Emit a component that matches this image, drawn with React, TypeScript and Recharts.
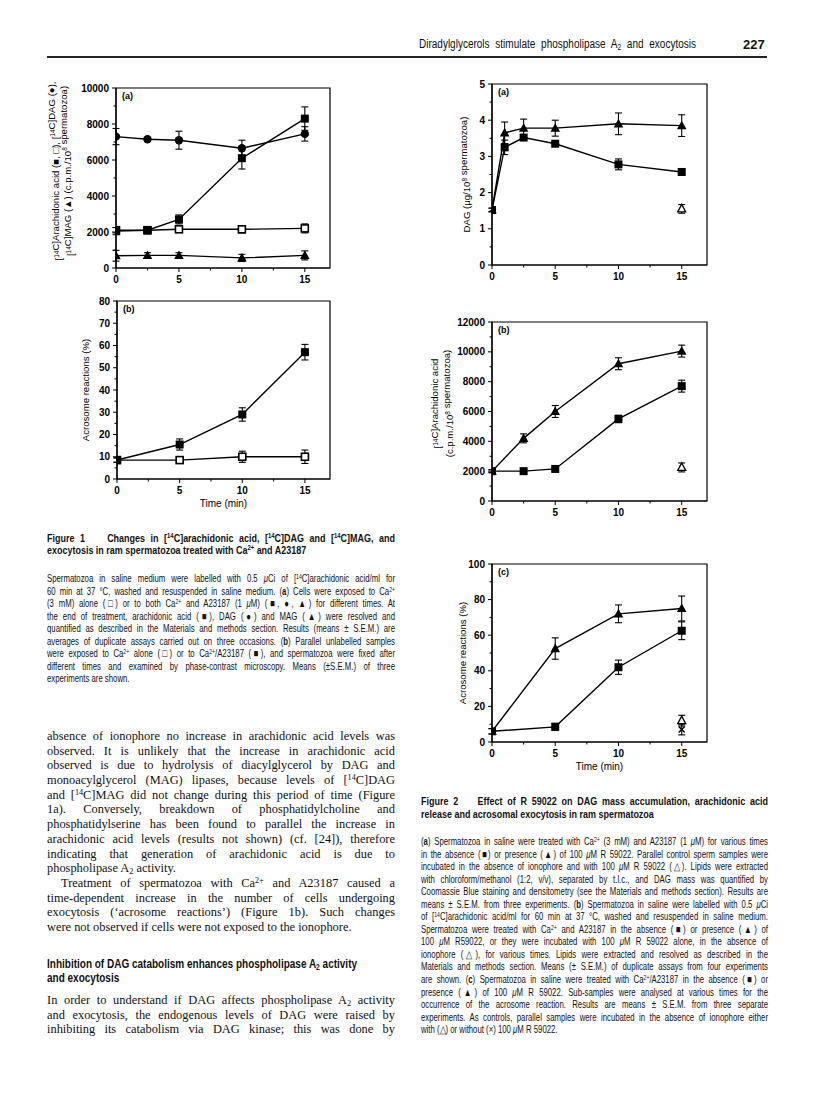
import React from 'react';
import { LineChart, Line, XAxis, YAxis, ErrorBar, ReferenceArea } from 'recharts';

const SANS = "'Liberation Sans', Arial, Helvetica, sans-serif";
const SERIF = "'Liberation Serif', 'Times New Roman', serif";

// ---- shared time axis ----
const timeTicks = [0, 2.5, 5, 7.5, 10, 12.5, 15];
const timeLabels = [0, 5, 10, 15];

// ---- Figure 1a: [14C] label (c.p.m./10^8 spermatozoa) ----
const f1aTimes = [0, 2.5, 5, 10, 15];
const f1aAA = [2050, 2100, 2700, 6100, 8300];
const f1aAAErr = [200, 200, 250, 600, 650];
const f1aAACtl = [2100, 2100, 2150, 2150, 2200];
const f1aAACtlErr = [150, 150, 150, 200, 250];
const f1aDAG = [7300, 7150, 7100, 6650, 7450];
const f1aDAGErr = [450, 100, 500, 450, 400];
const f1aMAG = [680, 700, 700, 560, 700];
const f1aMAGErr = [300, 150, 150, 200, 250];
const f1aYTicks = [0, 1000, 2000, 3000, 4000, 5000, 6000, 7000, 8000, 9000, 10000];
const f1aYLabels = [0, 2000, 4000, 6000, 8000, 10000];

// ---- Figure 1b: acrosome reactions (%) ----
const f1bTimes = [0, 5, 10, 15];
const f1bIono = [8.5, 15.5, 29, 57];
const f1bIonoErr = [1, 2.5, 3, 3.5];
const f1bCtl = [8.5, 8.5, 10, 10];
const f1bCtlErr = [1, 1.5, 2.5, 3];
const f1bYTicks = [0, 5, 10, 15, 20, 25, 30, 35, 40, 45, 50, 55, 60, 65, 70, 75, 80];
const f1bYLabels = [0, 10, 20, 30, 40, 50, 60, 70, 80];

// ---- Figure 2a: DAG mass (ug/10^8 spermatozoa) ----
const f2aTimes = [0, 1, 2.5, 5, 10, 15];
const f2aAbsent = [1.52, 3.25, 3.52, 3.35, 2.78, 2.57];
const f2aAbsentErr = [0.05, 0.2, 0.08, 0.05, 0.15, 0.08];
const f2aR59022 = [1.52, 3.65, 3.78, 3.78, 3.9, 3.85];
const f2aR59022Err = [0.05, 0.3, 0.25, 0.22, 0.3, 0.3];
const f2aCtlTimes = [15];
const f2aCtl = [1.55];
const f2aCtlErr = [0.12];
const f2aYTicks = [0, 0.5, 1, 1.5, 2, 2.5, 3, 3.5, 4, 4.5, 5];
const f2aYLabels = [0, 1, 2, 3, 4, 5];

// ---- Figure 2b: [14C]arachidonic acid ----
const f2bTimes = [0, 2.5, 5, 10, 15];
const f2bAbsent = [2000, 2000, 2150, 5500, 7700];
const f2bAbsentErr = [100, 150, 150, 250, 400];
const f2bR59022 = [2000, 4200, 6000, 9200, 10050];
const f2bR59022Err = [100, 300, 400, 400, 400];
const f2bCtlTimes = [15];
const f2bCtl = [2250];
const f2bCtlErr = [300];
const f2bYTicks = [0, 1000, 2000, 3000, 4000, 5000, 6000, 7000, 8000, 9000, 10000, 11000, 12000];
const f2bYLabels = [0, 2000, 4000, 6000, 8000, 10000, 12000];

// ---- Figure 2c: acrosome reactions (%) ----
const f2cTimes = [0, 5, 10, 15];
const f2cAbsent = [6, 8.5, 42, 62.5];
const f2cAbsentErr = [1.5, 2, 4, 5];
const f2cR59022 = [6, 52.5, 72, 75];
const f2cR59022Err = [1.5, 6, 5, 7];
const f2cCtlTimes = [15];
const f2cCtlR = [12];
const f2cCtlRErr = [3];
const f2cCtlNone = [7];
const f2cCtlNoneErr = [3];
const f2cYTicks = [0, 10, 20, 30, 40, 50, 60, 70, 80, 90, 100];
const f2cYLabels = [0, 20, 40, 60, 80, 100];

const pts = (xs: number[], ys: number[], es: number[]) =>
  xs.map((x, i) => ({ x, y: ys[i], e: es[i] }));

type Shape = 'sq' | 'osq' | 'circ' | 'tri' | 'otri' | 'x';

function Marker({ cx, cy, shape }: { cx?: number; cy?: number; shape: Shape }) {
  if (cx == null || cy == null) return null;
  switch (shape) {
    case 'sq':
      return <rect x={cx - 4} y={cy - 4} width={8} height={8} fill="#000" />;
    case 'osq':
      return <rect x={cx - 3.5} y={cy - 3.5} width={7} height={7} fill="#fff" stroke="#000" strokeWidth={1.6} />;
    case 'circ':
      return <circle cx={cx} cy={cy} r={4.2} fill="#000" />;
    case 'tri':
      return <polygon points={`${cx},${cy - 5} ${cx + 4.8},${cy + 3.6} ${cx - 4.8},${cy + 3.6}`} fill="#000" />;
    case 'otri':
      return (
        <polygon points={`${cx},${cy - 4.5} ${cx + 4},${cy + 3} ${cx - 4},${cy + 3}`} fill="#fff" stroke="#000" strokeWidth={1.3} />
      );
    case 'x':
      return (
        <g stroke="#000" strokeWidth={1.4}>
          <line x1={cx - 3} y1={cy - 3} x2={cx + 3} y2={cy + 3} />
          <line x1={cx - 3} y1={cy + 3} x2={cx + 3} y2={cy - 3} />
        </g>
      );
  }
  return null;
}

const dotOf = (shape: Shape) => (p: any) => <Marker key={`m-${p.index}`} cx={p.cx} cy={p.cy} shape={shape} />;

function series(key: string, data: { x: number; y: number; e: number }[], shape: Shape, joined = true) {
  return (
    <Line
      key={key}
      data={data}
      dataKey="y"
      type="linear"
      stroke={joined ? '#000' : 'none'}
      strokeWidth={1.4}
      dot={dotOf(shape)}
      activeDot={false}
      isAnimationActive={false}
    >
      <ErrorBar dataKey="e" direction="y" width={3.5} stroke="#000" strokeWidth={1.1} />
    </Line>
  );
}

function YTick(props: any) {
  const { x, y, payload, labels } = props;
  const major = labels.includes(payload.value);
  return (
    <g>
      <line x1={x - (major ? 4 : 2.5)} x2={x} y1={y} y2={y} stroke="#000" strokeWidth={1} />
      {major && (
        <text x={x - 7} y={y + 3.6} textAnchor="end" fontSize={10} fontWeight="bold" fontFamily={SANS} fill="#000">
          {payload.value}
        </text>
      )}
    </g>
  );
}

function XTick(props: any) {
  const { x, y, payload, labels } = props;
  const major = labels.includes(payload.value);
  return (
    <g>
      <line x1={x} x2={x} y1={y} y2={y + (major ? 4 : 2.5)} stroke="#000" strokeWidth={1} />
      {major && (
        <text x={x} y={y + 15} textAnchor="middle" fontSize={10} fontWeight="bold" fontFamily={SANS} fill="#000">
          {payload.value}
        </text>
      )}
    </g>
  );
}

function XTitle(props: any) {
  const { viewBox, text } = props;
  if (!viewBox) return null;
  return (
    <text x={viewBox.x + viewBox.width / 2} y={viewBox.y + 28} textAnchor="middle" fontSize={10} fontFamily={SANS} fill="#000">
      {text}
    </text>
  );
}

function YTitle(props: any) {
  const { viewBox, lines, offs, shift } = props;
  if (!viewBox) return null;
  const right = viewBox.x + viewBox.width;
  const cy = viewBox.y + viewBox.height / 2 + (shift || 0);
  return (
    <g>
      {lines.map((ln: React.ReactNode, i: number) => {
        const x = right + offs[i];
        return (
          <text key={i} x={x} y={cy} transform={`rotate(-90 ${x} ${cy})`} textAnchor="middle" fontSize={9.6} fontFamily={SANS} fill="#000">
            {ln}
          </text>
        );
      })}
    </g>
  );
}

const sup = (s: string) => (
  <>
    <tspan dy={-3.5} fontSize={6.5}>{s}</tspan>
    <tspan dy={3.5}>{''}</tspan>
  </>
);

type PanelProps = {
  left: number; top: number; w: number; h: number;
  yMax: number; yTicks: number[]; yLabels: number[];
  tag: string; yTitle: React.ReactNode; xTitle?: string;
  children: React.ReactNode;
};

function Panel({ left, top, w, h, yMax, yTicks, yLabels, tag, yTitle, xTitle, children }: PanelProps) {
  const ML = 90, MT = 12, MR = 12, XH = 40;
  return (
    <div style={{ position: 'absolute', left: left - ML, top: top - MT }}>
      <LineChart width={ML + w + MR} height={MT + h + XH} margin={{ top: MT, right: MR, bottom: 0, left: 0 }}>
        <XAxis
          type="number"
          dataKey="x"
          domain={[0, 17]}
          ticks={timeTicks}
          interval={0}
          tickSize={0}
          tickMargin={0}
          tickLine={false}
          height={XH}
          axisLine={{ stroke: '#000', strokeWidth: 1.2 }}
          tick={<XTick labels={timeLabels} />}
          label={xTitle ? <XTitle text={xTitle} /> : undefined}
          allowDataOverflow
        />
        <YAxis
          type="number"
          domain={[0, yMax]}
          ticks={yTicks}
          interval={0}
          tickSize={0}
          tickMargin={0}
          tickLine={false}
          width={ML}
          axisLine={{ stroke: '#000', strokeWidth: 1.2 }}
          tick={<YTick labels={yLabels} />}
          label={yTitle}
          allowDataOverflow
        />
        <ReferenceArea x1={0} x2={17} y1={0} y2={yMax} fill="none" stroke="#000" strokeWidth={1.2} ifOverflow="visible" />
        {children}
      </LineChart>
      <div style={{ position: 'absolute', left: ML + 6, top: MT + 3, fontFamily: SANS, fontSize: 9, fontWeight: 'bold' }}>{tag}</div>
    </div>
  );
}

// ---- page text ----
const Sup = ({ children }: { children: React.ReactNode }) => (
  <span style={{ fontSize: '0.66em', verticalAlign: '0.5em', lineHeight: 0 }}>{children}</span>
);
const Sub = ({ children }: { children: React.ReactNode }) => (
  <span style={{ fontSize: '0.66em', verticalAlign: '-0.3em', lineHeight: 0 }}>{children}</span>
);
const mu = <i>μ</i>;

type BlockProps = {
  left: number; top: number; width: number; lh: number; size: number;
  family: string; weight?: string | number; lines: React.ReactNode[]; ragged?: number[]; indent?: number[];
  squeeze?: number;
};

// squeeze < 1 narrows the glyphs to imitate the condensed face of the journal
function Block({ left, top, width, lh, size, family, weight, lines, ragged = [], indent = [], squeeze = 1 }: BlockProps) {
  return (
    <div
      style={{
        position: 'absolute', left, top, width: width / squeeze,
        transform: `scaleX(${squeeze})`, transformOrigin: 'left top',
        fontSize: size, fontFamily: family, fontWeight: weight, lineHeight: `${lh}px`, color: '#111',
      }}
    >
      {lines.map((ln, i) => (
        <div
          key={i}
          style={{
            height: lh,
            whiteSpace: 'nowrap',
            textAlign: 'justify',
            textAlignLast: ragged.includes(i) ? 'left' : 'justify',
            paddingLeft: indent.includes(i) ? 14 / squeeze : 0,
          }}
        >
          {ln}
        </div>
      ))}
    </div>
  );
}

const fig1Title = [
  <>Figure 1&nbsp;&nbsp;&nbsp; Changes in [<Sup>14</Sup>C]arachidonic acid, [<Sup>14</Sup>C]DAG and [<Sup>14</Sup>C]MAG, and</>,
  <>exocytosis in ram spermatozoa treated with Ca<Sup>2+</Sup> and A23187</>,
];
const fig1Body = [
  <>Spermatozoa in saline medium were labelled with 0.5 {mu}Ci of [<Sup>14</Sup>C]arachidonic acid/ml for</>,
  <>60 min at 37 °C, washed and resuspended in saline medium. (<b>a</b>) Cells were exposed to Ca<Sup>2+</Sup></>,
  <>(3 mM) alone (□) or to both Ca<Sup>2+</Sup> and A23187 (1 {mu}M) (■, ●, ▲) for different times. At</>,
  <>the end of treatment, arachidonic acid (■), DAG (●) and MAG (▲) were resolved and</>,
  <>quantified as described in the Materials and methods section. Results (means ± S.E.M.) are</>,
  <>averages of duplicate assays carried out on three occasions. (<b>b</b>) Parallel unlabelled samples</>,
  <>were exposed to Ca<Sup>2+</Sup> alone (□) or to Ca<Sup>2+</Sup>/A23187 (■), and spermatozoa were fixed after</>,
  <>different times and examined by phase-contrast microscopy. Means (±S.E.M.) of three</>,
  <>experiments are shown.</>,
];
const bodyText = [
  <>absence of ionophore no increase in arachidonic acid levels was</>,
  <>observed. It is unlikely that the increase in arachidonic acid</>,
  <>observed is due to hydrolysis of diacylglycerol by DAG and</>,
  <>monoacylglycerol (MAG) lipases, because levels of [<Sup>14</Sup>C]DAG</>,
  <>and [<Sup>14</Sup>C]MAG did not change during this period of time (Figure</>,
  <>1a). Conversely, breakdown of phosphatidylcholine and</>,
  <>phosphatidylserine has been found to parallel the increase in</>,
  <>arachidonic acid levels (results not shown) (cf. [24]), therefore</>,
  <>indicating that generation of arachidonic acid is due to</>,
  <>phospholipase A<Sub>2</Sub> activity.</>,
  <>Treatment of spermatozoa with Ca<Sup>2+</Sup> and A23187 caused a</>,
  <>time-dependent increase in the number of cells undergoing</>,
  <>exocytosis (‘acrosome reactions’) (Figure 1b). Such changes</>,
  <>were not observed if cells were not exposed to the ionophore.</>,
];
const heading = [
  <>Inhibition of DAG catabolism enhances phospholipase A<Sub>2</Sub> activity</>,
  <>and exocytosis</>,
];
const bodyText2 = [
  <>In order to understand if DAG affects phospholipase A<Sub>2</Sub> activity</>,
  <>and exocytosis, the endogenous levels of DAG were raised by</>,
  <>inhibiting its catabolism via DAG kinase; this was done by</>,
];
const fig2Title = [
  <>Figure 2&nbsp;&nbsp;&nbsp; Effect of R 59022 on DAG mass accumulation, arachidonic acid</>,
  <>release and acrosomal exocytosis in ram spermatozoa</>,
];
const fig2Body = [
  <>(<b>a</b>) Spermatozoa in saline were treated with Ca<Sup>2+</Sup> (3 mM) and A23187 (1 {mu}M) for various times</>,
  <>in the absence (■) or presence (▲) of 100 {mu}M R 59022. Parallel control sperm samples were</>,
  <>incubated in the absence of ionophore and with 100 {mu}M R 59022 (△). Lipids were extracted</>,
  <>with chloroform/methanol (1:2, v/v), separated by t.l.c., and DAG mass was quantified by</>,
  <>Coomassie Blue staining and densitometry (see the Materials and methods section). Results are</>,
  <>means ± S.E.M. from three experiments. (<b>b</b>) Spermatozoa in saline were labelled with 0.5 {mu}Ci</>,
  <>of [<Sup>14</Sup>C]arachidonic acid/ml for 60 min at 37 °C, washed and resuspended in saline medium.</>,
  <>Spermatozoa were treated with Ca<Sup>2+</Sup> and A23187 in the absence (■) or presence (▲) of</>,
  <>100 {mu}M R59022, or they were incubated with 100 {mu}M R 59022 alone, in the absence of</>,
  <>ionophore (△), for various times. Lipids were extracted and resolved as described in the</>,
  <>Materials and methods section. Means (± S.E.M.) of duplicate assays from four experiments</>,
  <>are shown. (<b>c</b>) Spermatozoa in saline were treated with Ca<Sup>2+</Sup>/A23187 in the absence (■) or</>,
  <>presence (▲) of 100 {mu}M R 59022. Sub-samples were analysed at various times for the</>,
  <>occurrence of the acrosome reaction. Results are means ± S.E.M. from three separate</>,
  <>experiments. As controls, parallel samples were incubated in the absence of ionophore either</>,
  <>with (△) or without (×) 100 {mu}M R 59022.</>,
];

export default function App() {
  return (
    <div style={{ position: 'absolute', left: 0, top: 0, width: 816, height: 1093, background: '#fff', overflow: 'hidden' }}>
      {/* running head */}
      <Block
        left={419} top={37} width={277} lh={15} size={12.5} family={SANS} squeeze={0.8}
        lines={[<>Diradylglycerols stimulate phospholipase A<Sub>2</Sub> and exocytosis</>]}
      />
      <div style={{ position: 'absolute', left: 743, top: 37, lineHeight: '15px', fontFamily: SANS, fontSize: 13, fontWeight: 'bold', color: '#111' }}>227</div>
      <div style={{ position: 'absolute', left: 47, top: 56, width: 720, height: 1.5, background: '#222' }} />

      {/* Figure 1a */}
      <Panel
        left={116} top={88} w={214} h={180}
        yMax={10000} yTicks={f1aYTicks} yLabels={f1aYLabels} tag="(a)"
        yTitle={
          <YTitle
            offs={[-54, -42]}
            shift={-7}
            lines={[
              <>[{sup('14')}C]Arachidonic acid (■, □), [{sup('14')}C]DAG (●),</>,
              <>[{sup('14')}C]MAG (▲) (c.p.m./10{sup('8')} spermatozoa)</>,
            ]}
          />
        }
      >
        {series('dag', pts(f1aTimes, f1aDAG, f1aDAGErr), 'circ')}
        {series('mag', pts(f1aTimes, f1aMAG, f1aMAGErr), 'tri')}
        {series('aactl', pts(f1aTimes, f1aAACtl, f1aAACtlErr), 'osq')}
        {series('aa', pts(f1aTimes, f1aAA, f1aAAErr), 'sq')}
      </Panel>

      {/* Figure 1b */}
      <Panel
        left={117} top={301} w={213} h={178}
        yMax={80} yTicks={f1bYTicks} yLabels={f1bYLabels} tag="(b)" xTitle="Time (min)"
        yTitle={<YTitle offs={[-28]} lines={['Acrosome reactions (%)']} />}
      >
        {series('ctl', pts(f1bTimes, f1bCtl, f1bCtlErr), 'osq')}
        {series('iono', pts(f1bTimes, f1bIono, f1bIonoErr), 'sq')}
      </Panel>

      {/* Figure 2a */}
      <Panel
        left={492} top={84} w={215} h={181}
        yMax={5} yTicks={f2aYTicks} yLabels={f2aYLabels} tag="(a)"
        yTitle={<YTitle offs={[-22]} lines={[<>DAG (μg/10{sup('8')} spermatozoa)</>]} />}
      >
        {series('r', pts(f2aTimes, f2aR59022, f2aR59022Err), 'tri')}
        {series('abs', pts(f2aTimes, f2aAbsent, f2aAbsentErr), 'sq')}
        {series('ctl', pts(f2aCtlTimes, f2aCtl, f2aCtlErr), 'otri', false)}
      </Panel>

      {/* Figure 2b */}
      <Panel
        left={492} top={322} w={215} h={179}
        yMax={12000} yTicks={f2bYTicks} yLabels={f2bYLabels} tag="(b)"
        yTitle={
          <YTitle
            offs={[-51, -39]}
            shift={-8}
            lines={[<>[{sup('14')}C]Arachidonic acid</>, <>(c.p.m./10{sup('8')} spermatozoa)</>]}
          />
        }
      >
        {series('r', pts(f2bTimes, f2bR59022, f2bR59022Err), 'tri')}
        {series('abs', pts(f2bTimes, f2bAbsent, f2bAbsentErr), 'sq')}
        {series('ctl', pts(f2bCtlTimes, f2bCtl, f2bCtlErr), 'otri', false)}
      </Panel>

      {/* Figure 2c */}
      <Panel
        left={492} top={564} w={215} h={178}
        yMax={100} yTicks={f2cYTicks} yLabels={f2cYLabels} tag="(c)" xTitle="Time (min)"
        yTitle={<YTitle offs={[-26]} lines={['Acrosome reactions (%)']} />}
      >
        {series('r', pts(f2cTimes, f2cR59022, f2cR59022Err), 'tri')}
        {series('abs', pts(f2cTimes, f2cAbsent, f2cAbsentErr), 'sq')}
        {series('ctln', pts(f2cCtlTimes, f2cCtlNone, f2cCtlNoneErr), 'x', false)}
        {series('ctlr', pts(f2cCtlTimes, f2cCtlR, f2cCtlRErr), 'otri', false)}
      </Panel>

      {/* captions and body */}
      <Block left={47} top={532} width={348} lh={12} size={11.5} family={SANS} weight="bold" squeeze={0.78} lines={fig1Title} ragged={[1]} />
      <Block left={47} top={572} width={348} lh={12.5} size={10.5} family={SANS} squeeze={0.74} lines={fig1Body} ragged={[8]} />
      <Block left={47} top={729} width={348} lh={14.7} size={12.4} family={SERIF} lines={bodyText} ragged={[9, 13]} indent={[10]} />
      <Block left={47} top={957} width={348} lh={14} size={12.5} family={SANS} weight="bold" squeeze={0.8} lines={heading} ragged={[0, 1]} />
      <Block left={47} top={993} width={348} lh={14.7} size={12.4} family={SERIF} lines={bodyText2} />
      <Block left={421} top={795} width={347} lh={13} size={11.5} family={SANS} weight="bold" squeeze={0.78} lines={fig2Title} ragged={[1]} />
      <Block left={421} top={835} width={347} lh={12.55} size={10.5} family={SANS} squeeze={0.74} lines={fig2Body} ragged={[15]} />
    </div>
  );
}
